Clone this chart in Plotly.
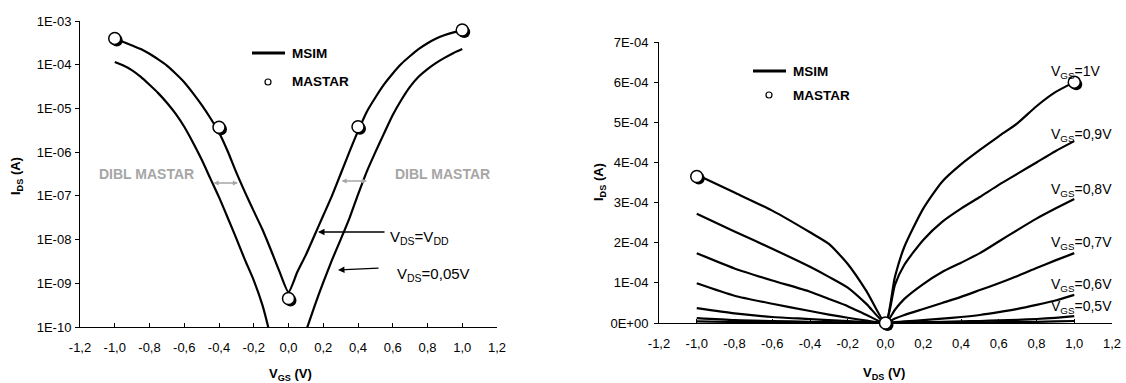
import plotly.graph_objects as go

W, H = 1126, 383
FONT = "Arial, 'Liberation Sans', sans-serif"

# ---------------- data: left chart (IDS vs VGS, log) ----------------
VGS_VDD = [-1.0, -0.95, -0.9, -0.85, -0.8, -0.75, -0.7, -0.65, -0.6, -0.55, -0.5, -0.45, -0.4,
           -0.35, -0.3, -0.25, -0.2, -0.15, -0.1, -0.05, 0.0,
           0.05, 0.1, 0.15, 0.2, 0.25, 0.3, 0.35, 0.4, 0.45, 0.5, 0.55, 0.6, 0.65, 0.7,
           0.75, 0.8, 0.85, 0.9, 0.95, 1.0]
IDS_VDD = [3.98e-4, 3.31e-4, 2.75e-4, 2.29e-4, 1.78e-4, 1.32e-4, 9.55e-5, 6.31e-5, 3.98e-5,
           2.24e-5, 1.20e-5, 6.03e-6, 2.82e-6, 1.05e-6, 3.39e-7, 1.20e-7, 4.47e-8, 1.70e-8,
           5.62e-9, 1.78e-9, 6.31e-10,
           1.78e-9, 4.47e-9, 1.26e-8, 3.55e-8, 1.0e-7, 3.16e-7, 1.0e-6, 3.02e-6, 8.32e-6,
           1.78e-5, 3.55e-5, 6.31e-5, 1.05e-4, 1.58e-4, 2.29e-4, 3.09e-4, 3.98e-4, 4.79e-4,
           5.50e-4, 6.03e-4]

VGS_LIN = [-1.0, -0.95, -0.9, -0.85, -0.8, -0.75, -0.7, -0.65, -0.6, -0.55, -0.5, -0.45, -0.4,
           -0.35, -0.3, -0.25, -0.2, -0.15, -0.12, -0.1, None,
           0.1, 0.15, 0.2, 0.25, 0.3, 0.35, 0.4, 0.45, 0.5, 0.55, 0.6, 0.65, 0.7, 0.75, 0.8,
           0.85, 0.9, 0.95, 1.0]
IDS_LIN = [1.15e-4, 9.55e-5, 7.41e-5, 5.25e-5, 3.47e-5, 2.24e-5, 1.35e-5, 7.59e-6, 3.80e-6,
           1.66e-6, 6.76e-7, 2.51e-7, 9.33e-8, 3.16e-8, 1.05e-8, 3.39e-9, 1.17e-9, 3.16e-10,
           1.12e-10, 5.01e-11, None,
           7.94e-11, 3.02e-10, 1.05e-9, 3.39e-9, 1.0e-8, 3.02e-8, 1.07e-7, 3.55e-7, 1.0e-6,
           2.69e-6, 7.08e-6, 1.58e-5, 3.16e-5, 5.37e-5, 7.94e-5, 1.10e-4, 1.45e-4, 1.86e-4,
           2.29e-4]

MASTAR_VGS = [-1.0, -0.4, 0.0, 0.4, 1.0]
MASTAR_IDS = [4.0e-4, 3.7e-6, 4.5e-10, 3.8e-6, 6.2e-4]

LOG_TICKS = [1e-10, 1e-9, 1e-8, 1e-7, 1e-6, 1e-5, 1e-4, 1e-3]
LOG_TICK_LABELS = ["1E-10", "1E-09", "1E-08", "1E-07", "1E-06", "1E-05", "1E-04", "1E-03"]

X_TICKS = [-1.2, -1.0, -0.8, -0.6, -0.4, -0.2, 0.0, 0.2, 0.4, 0.6, 0.8, 1.0, 1.2]
X_TICK_LABELS = ["-1,2", "-1,0", "-0,8", "-0,6", "-0,4", "-0,2", "0,0",
                 "0,2", "0,4", "0,6", "0,8", "1,0", "1,2"]

# ---------------- data: right chart (IDS vs VDS, linear) ----------------
VDS = [-1.0, -0.8, -0.6, -0.4, -0.3, -0.2, -0.1, 0.0, 0.05, 0.1, 0.2, 0.3, 0.4, 0.5, 0.6, 0.7, 0.8, 0.9, 1.0]
ID_VGS_1_0 = [3.69e-4, 3.25e-4, 2.80e-4, 2.26e-4, 1.97e-4, 1.47e-4, 0.79e-4, 0.0, 1.15e-4, 1.90e-4, 2.85e-4,
              3.52e-4, 3.95e-4, 4.31e-4, 4.65e-4, 4.98e-4, 5.40e-4, 5.75e-4, 6.0e-4]
ID_VGS_0_9 = [2.72e-4, 2.28e-4, 1.85e-4, 1.40e-4, 1.15e-4, 0.88e-4, 0.47e-4, 0.0, 0.95e-4, 1.45e-4, 2.07e-4,
              2.52e-4, 2.85e-4, 3.14e-4, 3.44e-4, 3.72e-4, 4.00e-4, 4.28e-4, 4.53e-4]
ID_VGS_0_8 = [1.74e-4, 1.36e-4, 1.06e-4, 0.78e-4, 0.60e-4, 0.42e-4, 0.20e-4, 0.0, 0.33e-4, 0.60e-4, 0.97e-4,
              1.27e-4, 1.50e-4, 1.74e-4, 2.03e-4, 2.32e-4, 2.60e-4, 2.85e-4, 3.09e-4]
ID_VGS_0_7 = [0.99e-4, 0.68e-4, 0.48e-4, 0.30e-4, 0.21e-4, 0.13e-4, 0.06e-4, 0.0, 0.11e-4, 0.20e-4, 0.35e-4,
              0.50e-4, 0.65e-4, 0.82e-4, 0.99e-4, 1.17e-4, 1.37e-4, 1.56e-4, 1.74e-4]
ID_VGS_0_6 = [0.37e-4, 0.24e-4, 0.15e-4, 0.10e-4, 0.07e-4, 0.05e-4, 0.02e-4, 0.0, 0.02e-4, 0.04e-4, 0.07e-4,
              0.11e-4, 0.15e-4, 0.20e-4, 0.27e-4, 0.35e-4, 0.45e-4, 0.56e-4, 0.70e-4]
ID_VGS_0_5 = [0.12e-4, 0.07e-4, 0.05e-4, 0.03e-4, 0.02e-4, 0.015e-4, 0.007e-4, 0.0, 0.005e-4, 0.01e-4, 0.02e-4,
              0.03e-4, 0.04e-4, 0.05e-4, 0.065e-4, 0.08e-4, 0.10e-4, 0.13e-4, 0.17e-4]
ID_VGS_0_4 = [0.04e-4, 0.025e-4, 0.015e-4, 0.01e-4, 0.008e-4, 0.005e-4, 0.002e-4, 0.0, 0.002e-4, 0.003e-4, 0.006e-4,
              0.01e-4, 0.012e-4, 0.015e-4, 0.02e-4, 0.025e-4, 0.03e-4, 0.04e-4, 0.05e-4]
OUTPUT_CURVES = [ID_VGS_1_0, ID_VGS_0_9, ID_VGS_0_8, ID_VGS_0_7, ID_VGS_0_6, ID_VGS_0_5, ID_VGS_0_4]

MASTAR_VDS = [-1.0, 0.0, 1.0]
MASTAR_ID = [3.65e-4, 0.0, 6.0e-4]

LIN_TICKS = [0, 1e-4, 2e-4, 3e-4, 4e-4, 5e-4, 6e-4, 7e-4]
LIN_TICK_LABELS = ["0E+00", "1E-04", "2E-04", "3E-04", "4E-04", "5E-04", "6E-04", "7E-04"]

VGS_LABELS = ["V<sub>GS</sub>=1V", "V<sub>GS</sub>=0,9V", "V<sub>GS</sub>=0,8V",
              "V<sub>GS</sub>=0,7V", "V<sub>GS</sub>=0,6V", "V<sub>GS</sub>=0,5V"]
VGS_LABEL_Y = [72, 135, 190, 243, 285, 307]   # pixel rows of the labels

# ---------------- layout helpers ----------------
def fx(p):
    return p / W

def fy(p):
    return 1 - p / H

L_X, L_Y = (80, 497), (21, 327)
R_X, R_Y = (659, 1112), (42, 323)
SH = 2  # marker shadow offset in px

def xdom(a, b, d=0):
    return [fx(a + d), fx(b + d)]

def ydom(top, bottom, d=0):
    return [fy(bottom + d), fy(top + d)]

fig = go.Figure()
LINE = dict(color="black", width=2.2, shape="spline", smoothing=0.6)

fig.add_trace(go.Scatter(x=VGS_VDD, y=IDS_VDD, mode="lines", line=LINE, xaxis="x", yaxis="y",
                         showlegend=False, hoverinfo="skip"))
fig.add_trace(go.Scatter(x=VGS_LIN, y=IDS_LIN, mode="lines", line=LINE, xaxis="x", yaxis="y",
                         showlegend=False, connectgaps=False, hoverinfo="skip"))
for cur in OUTPUT_CURVES:
    fig.add_trace(go.Scatter(x=VDS, y=cur, mode="lines", line=LINE, xaxis="x2", yaxis="y2",
                             showlegend=False, hoverinfo="skip"))

MK = 12
fig.add_trace(go.Scatter(x=MASTAR_VGS, y=MASTAR_IDS, mode="markers", xaxis="x3", yaxis="y3",
                         marker=dict(size=MK, color="black"), showlegend=False, cliponaxis=False))
fig.add_trace(go.Scatter(x=MASTAR_VDS, y=MASTAR_ID, mode="markers", xaxis="x4", yaxis="y4",
                         marker=dict(size=MK, color="black"), showlegend=False, cliponaxis=False))
fig.add_trace(go.Scatter(x=MASTAR_VGS, y=MASTAR_IDS, mode="markers", xaxis="x5", yaxis="y5",
                         marker=dict(size=MK, color="white", line=dict(color="black", width=1.5)),
                         showlegend=False, cliponaxis=False))
fig.add_trace(go.Scatter(x=MASTAR_VDS, y=MASTAR_ID, mode="markers", xaxis="x6", yaxis="y6",
                         marker=dict(size=MK, color="white", line=dict(color="black", width=1.5)),
                         showlegend=False, cliponaxis=False))

tickfont = dict(family=FONT, size=13, color="black")

def xaxis_cfg(dom, anchor):
    return dict(domain=dom, anchor=anchor, range=[-1.2, 1.2], tickvals=X_TICKS, ticktext=X_TICK_LABELS,
                showline=True, linecolor="black", linewidth=1, ticks="inside", ticklen=4,
                tickcolor="black", tickwidth=1, showgrid=False, zeroline=False, tickfont=tickfont,
                ticklabelstandoff=8, ticklabeloverflow="allow", automargin=False, fixedrange=True)

def hidden_x(dom, anchor):
    return dict(domain=dom, anchor=anchor, range=[-1.2, 1.2], visible=False, fixedrange=True)

lx, ly = xdom(*L_X), ydom(*L_Y)
rx, ry = xdom(*R_X), ydom(*R_Y)

fig.update_layout(
    width=W, height=H, margin=dict(l=0, r=0, t=0, b=0),
    paper_bgcolor="white", plot_bgcolor="rgba(0,0,0,0)",
    font=dict(family=FONT, size=13, color="black"),
    showlegend=False,
    xaxis=xaxis_cfg(lx, "y"),
    yaxis=dict(domain=ly, anchor="x", type="log", range=[-10, -3], tickvals=LOG_TICKS,
               ticktext=LOG_TICK_LABELS, showline=True, linecolor="black", linewidth=1,
               ticks="outside", ticklen=4, tickcolor="black", showgrid=False, zeroline=False,
               tickfont=tickfont, ticklabelstandoff=1, automargin=False, fixedrange=True),
    xaxis2=xaxis_cfg(rx, "y2"),
    yaxis2=dict(domain=ry, anchor="x2", range=[0, 7e-4], tickvals=LIN_TICKS, ticktext=LIN_TICK_LABELS,
                showline=True, linecolor="black", linewidth=1, ticks="outside", ticklen=4,
                tickcolor="black", showgrid=False, zeroline=False, tickfont=tickfont,
                ticklabelstandoff=3, automargin=False, fixedrange=True),
    xaxis3=hidden_x(xdom(*L_X, SH), "y3"),
    yaxis3=dict(domain=ydom(*L_Y, SH), anchor="x3", type="log", range=[-10, -3], visible=False),
    xaxis4=hidden_x(xdom(*R_X, SH), "y4"),
    yaxis4=dict(domain=ydom(*R_Y, SH), anchor="x4", range=[0, 7e-4], visible=False),
    xaxis5=hidden_x(lx, "y5"),
    yaxis5=dict(domain=ly, anchor="x5", type="log", range=[-10, -3], visible=False),
    xaxis6=hidden_x(rx, "y6"),
    yaxis6=dict(domain=ry, anchor="x6", range=[0, 7e-4], visible=False),
)

ann = []
shapes = []

def text(xp, yp, t, size=13, bold=False, color="black", xanchor="left", angle=0):
    if bold:
        t = "<b>" + t + "</b>"
    ann.append(dict(x=fx(xp), y=fy(yp), xref="paper", yref="paper", text=t, showarrow=False,
                    xanchor=xanchor, yanchor="middle", textangle=angle,
                    font=dict(family=FONT, size=size, color=color)))

def arrow(x0, y0, x1, y1, color="black", width=1.3, both=False, head=2, size=1.0):
    ann.append(dict(x=fx(x1), y=fy(y1), xref="paper", yref="paper", ax=x0 - x1, ay=y0 - y1,
                    axref="pixel", ayref="pixel", text="", showarrow=True, arrowhead=head,
                    arrowsize=size, arrowwidth=width, arrowcolor=color,
                    startarrowhead=head, startarrowsize=size,
                    arrowside="end+start" if both else "end"))

# axis titles
text(290, 374, "V<sub>GS</sub> (V)", size=13, bold=True, xanchor="center")
text(884, 373, "V<sub>DS</sub> (V)", size=13, bold=True, xanchor="center")
text(16, 176, "I<sub>DS</sub> (A)", size=13, bold=True, xanchor="center", angle=-90)
text(600, 182, "I<sub>DS</sub> (A)", size=13, bold=True, xanchor="center", angle=-90)

def legend(xl, yl, ym):
    shapes.append(dict(type="line", xref="paper", yref="paper", x0=fx(xl), x1=fx(xl + 33),
                       y0=fy(yl), y1=fy(yl), line=dict(color="black", width=3)))
    cx = xl + 16
    shapes.append(dict(type="circle", xref="paper", yref="paper", x0=fx(cx - 3), x1=fx(cx + 3),
                       y0=fy(ym + 3), y1=fy(ym - 3), line=dict(color="black", width=1.2),
                       fillcolor="white"))
    text(xl + 38, yl, "MSIM", size=13.5, bold=True)
    text(xl + 38, ym, "MASTAR", size=13.5, bold=True)

legend(252, 53, 82)
legend(753, 71, 95)

GRAY = "#a6a6a6"
text(97, 174, "DIBL MASTAR", size=14, bold=True, color=GRAY)
text(393, 174, "DIBL MASTAR", size=14, bold=True, color=GRAY)
arrow(212, 183, 238, 183, color=GRAY, width=1.3, both=True, head=2, size=0.8)
arrow(340, 181, 367, 181, color=GRAY, width=1.3, both=True, head=2, size=0.8)

text(388, 237, "V<sub>DS</sub>=V<sub>DD</sub>", size=15)
text(395, 274, "V<sub>DS</sub>=0,05V", size=15)
arrow(386, 232, 318, 232, width=1.3, head=2, size=1.0)
arrow(380, 268, 338, 270, width=1.3, head=2, size=1.0)

for lab, yp in zip(VGS_LABELS, VGS_LABEL_Y):
    text(1049, yp, lab, size=14)

fig.update_layout(annotations=ann, shapes=shapes)
fig.write_html("out.html", config={"displayModeBar": False, "staticPlot": True},
               post_script="document.body.style.margin='0px';document.body.style.overflow='hidden';")
